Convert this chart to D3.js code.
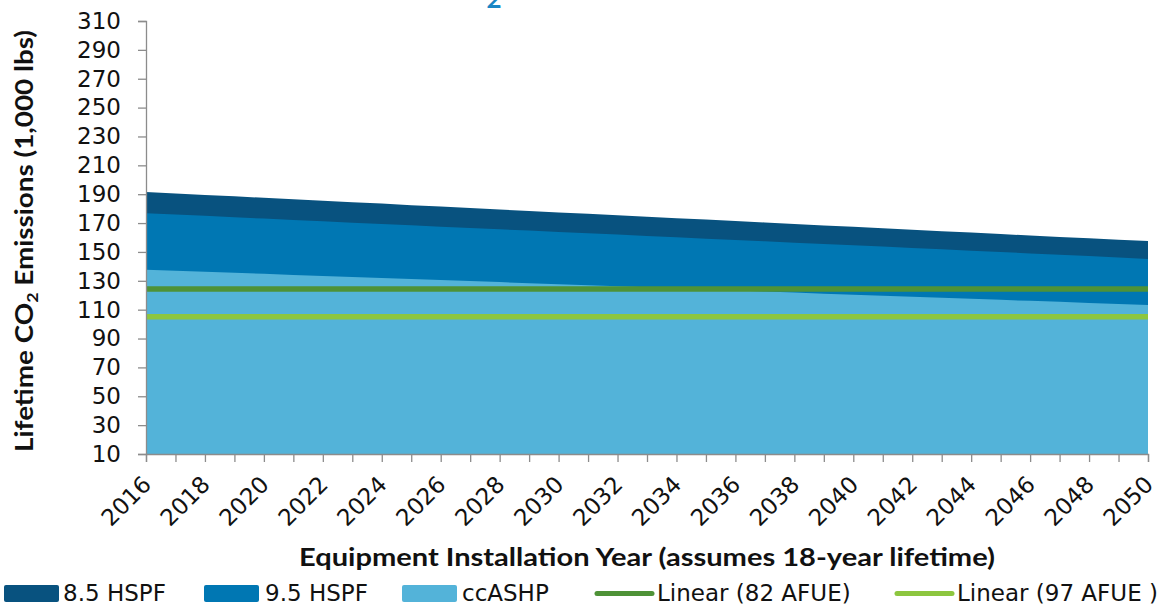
<!DOCTYPE html>
<html>
<head>
<meta charset="utf-8">
<script src="https://cdn.jsdelivr.net/npm/d3@7"></script>
<style>
html, body { margin: 0; padding: 0; background: #fff; overflow: hidden; }
svg { display: block; }
text { font-family: "DejaVu Sans", sans-serif; fill: #111; }
</style>
</head>
<body>
<svg id="chart" width="1173" height="607"></svg>
<script>
// ---- data ----
const years = [2016,2017,2018,2019,2020,2021,2022,2023,2024,2025,2026,2027,2028,2029,2030,2031,2032,2033,2034,2035,2036,2037,2038,2039,2040,2041,2042,2043,2044,2045,2046,2047,2048,2049,2050];
const hspf85 = [191.5,190.5,189.5,188.5,187.5,186.5,185.5,184.5,183.5,182.4,181.4,180.4,179.4,178.4,177.4,176.4,175.4,174.4,173.4,172.4,171.4,170.4,169.4,168.4,167.4,166.4,165.4,164.4,163.4,162.4,161.4,160.4,159.4,158.5,157.6];
const hspf95 = [176.8,175.9,175.0,174.0,173.1,172.2,171.3,170.3,169.4,168.5,167.5,166.6,165.7,164.8,163.8,162.9,162.0,161.1,160.1,159.2,158.3,157.4,156.4,155.5,154.6,153.7,152.7,151.8,150.9,150.0,149.0,148.1,147.1,146.1,145.1];
const ccashp = [137.7,137.0,136.3,135.5,134.8,134.1,133.4,132.7,131.9,131.2,130.5,129.8,129.1,128.3,127.6,126.9,126.2,125.5,124.7,124.0,123.3,122.6,121.9,121.1,120.4,119.7,119.0,118.3,117.5,116.8,116.1,115.4,114.7,113.9,113.2];
const trendYears = [2016, 2050];
const afue82 = [124.3, 124.3];
const afue97 = [105.1, 105.1];
const yTicks = [10,30,50,70,90,110,130,150,170,190,210,230,250,270,290,310];
const xLabelYears = [2016,2018,2020,2022,2024,2026,2028,2030,2032,2034,2036,2038,2040,2042,2044,2046,2048,2050];
const seriesNames = ["8.5 HSPF", "9.5 HSPF", "ccASHP", "Linear (82 AFUE)", "Linear (97 AFUE )"];
const colors = ["#08527f", "#0077b3", "#53b3d9", "#4e9237", "#8dc63f"];

// ---- layout ----
const svg = d3.select("#chart");
const x = d3.scaleLinear().domain([2016, 2050]).range([146, 1148]);
const y = d3.scaleLinear().domain([10, 310]).range([454, 21]);
const axisColor = "#8c8c8c";
const regFont = "'DejaVu Sans', sans-serif";
const boldFont = "Lato, sans-serif";

// title fragment (cut off at top, as in the reference)
svg.append("text").attr("x", 494).attr("y", 8).attr("text-anchor", "middle")
  .style("font-family", boldFont).style("font-size", "26px").style("font-weight", "bold")
  .style("fill", "#1a86c5").text("2");

// areas (overlapping, drawn back to front)
[hspf85, hspf95, ccashp].forEach((vals, i) => {
  const area = d3.area()
    .x((d, j) => x(years[j]))
    .y0(y(10))
    .y1(d => y(d));
  svg.append("path").datum(vals).attr("d", area).attr("fill", colors[i]);
});

// trend lines
[afue82, afue97].forEach((vals, i) => {
  const line = d3.line().x((d, j) => x(trendYears[j])).y(d => y(d));
  svg.append("path").datum(vals).attr("d", line)
    .attr("fill", "none").attr("stroke", colors[3 + i]).attr("stroke-width", 5.5);
});

// y axis
const yAxis = d3.axisLeft(y).tickValues(yTicks).tickSize(8).tickPadding(17).tickFormat(d3.format("d"));
const gy = svg.append("g").attr("transform", "translate(146,0)").call(yAxis);
gy.select(".domain").attr("stroke", axisColor).attr("stroke-width", 1.3);
gy.selectAll(".tick line").attr("stroke", axisColor).attr("stroke-width", 1.3);
gy.selectAll(".tick text").style("font-size", "23px").style("font-family", regFont).attr("fill", "#111");

// x axis
const xAxis = d3.axisBottom(x).tickValues(years).tickSize(8).tickFormat(d => xLabelYears.includes(d) ? String(d) : "");
const gx = svg.append("g").attr("transform", "translate(0,454)").call(xAxis);
gx.select(".domain").attr("stroke", axisColor).attr("stroke-width", 1.3);
gx.selectAll(".tick line").attr("stroke", axisColor).attr("stroke-width", 1.3);
gx.selectAll(".tick text")
  .style("font-size", "23px").style("font-family", regFont).attr("fill", "#111")
  .attr("text-anchor", "end")
  .attr("dy", null).attr("y", null)
  .attr("transform", "translate(6,32) rotate(-45)");

// axis titles
const yt = svg.append("text")
  .attr("transform", "translate(33,241) rotate(-90)")
  .attr("text-anchor", "middle")
  .attr("textLength", 422).attr("lengthAdjust", "spacingAndGlyphs")
  .style("font-family", boldFont).style("font-size", "25px").style("font-weight", "bold");
yt.append("tspan").text("Lifetime CO");
yt.append("tspan").attr("dy", 5).style("font-size", "16px").text("2");
yt.append("tspan").attr("dy", -5).text(" Emissions (1,000 lbs)");

svg.append("text").attr("x", 647).attr("y", 566).attr("text-anchor", "middle")
  .attr("textLength", 696).attr("lengthAdjust", "spacingAndGlyphs")
  .style("font-family", boldFont).style("font-size", "25px").style("font-weight", "bold")
  .text("Equipment Installation Year (assumes 18-year lifetime)");

// legend
const legendItems = [
  {type: "box", x: 4, tx: 63},
  {type: "box", x: 204, tx: 265},
  {type: "box", x: 402, tx: 462},
  {type: "line", x: 597, tx: 657},
  {type: "line", x: 897, tx: 957}
];
legendItems.forEach((it, i) => {
  if (it.type === "box") {
    svg.append("rect").attr("x", it.x).attr("y", 585).attr("width", 55).attr("height", 17)
      .attr("rx", 2).attr("fill", colors[i]);
  } else {
    svg.append("line").attr("x1", it.x).attr("x2", it.x + 55).attr("y1", 593.5).attr("y2", 593.5)
      .attr("stroke", colors[i]).attr("stroke-width", 5).attr("stroke-linecap", "round");
  }
  svg.append("text").attr("x", it.tx).attr("y", 601)
    .style("font-family", regFont).style("font-size", "23px").text(seriesNames[i]);
});
</script>
</body>
</html>
